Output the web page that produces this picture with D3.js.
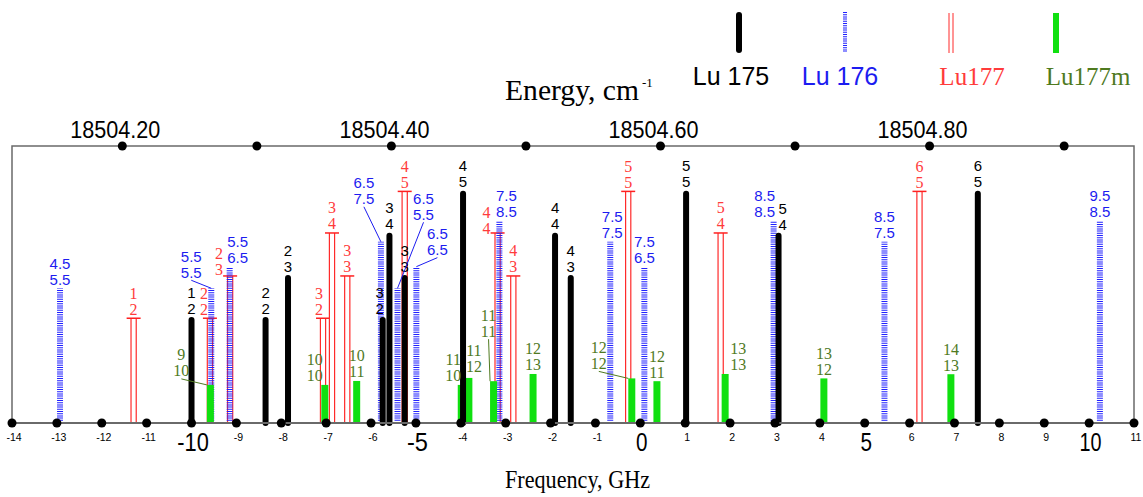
<!DOCTYPE html>
<html>
<head>
<meta charset="utf-8">
<script src="https://cdn.jsdelivr.net/npm/d3@7"></script>
<style>
  body { margin: 0; background: #fff; }
  svg { display: block; }
</style>
</head>
<body>
<svg id="chart" width="1143" height="497"></svg>
<script>
// hyperfine components: frequency offset (GHz), relative strength, F' / F labels
const lu175Freq = [-10.0, -8.35, -7.85, -5.74, -5.59, -5.25, -3.95, -1.90, -1.55, 1.02, 3.08, 7.52];
const lu175Int  = [45.6, 45.6, 63.7, 45.6, 81.9, 63.7, 100, 81.9, 63.7, 100, 81.9, 100];
const lu175Up   = ["1", "2", "2", "3", "3", "3", "4", "4", "4", "5", "5", "6"];
const lu175Low  = ["2", "2", "3", "2", "4", "3", "5", "4", "3", "5", "4", "5"];

const lu176Freq = [-12.93, -9.56, -9.15, -5.78, -5.41, -4.99, -3.14, -0.67, 0.09, 2.97, 5.44, 10.24];
const lu176Int  = [58.0, 58.0, 67.3, 78.0, 58.0, 67.3, 87.1, 78.0, 67.3, 87.1, 78.0, 87.1];
const lu176Up   = ["4.5", "5.5", "5.5", "6.5", "6.5", "6.5", "7.5", "7.5", "7.5", "8.5", "8.5", "9.5"];
const lu176Low  = ["5.5", "5.5", "6.5", "7.5", "5.5", "6.5", "8.5", "7.5", "6.5", "8.5", "7.5", "8.5"];

const lu177Freq = [-11.29, -9.59, -9.14, -7.07, -6.87, -6.53, -5.25, -3.18, -2.83, -0.27, 1.79, 6.22];
const lu177Int  = [45.1, 45.1, 63.3, 45.1, 81.8, 63.3, 99.7, 81.8, 63.3, 99.7, 81.8, 99.7];
const lu177Up   = ["1", "2", "2", "3", "3", "3", "4", "4", "4", "5", "5", "6"];
const lu177Low  = ["2", "2", "3", "2", "4", "3", "5", "4", "3", "5", "4", "5"];

const lu177mFreq = [-9.58, -7.03, -6.32, -3.99, -3.82, -3.27, -2.39, -0.19, 0.37, 1.89, 4.09, 6.92];
const lu177mInt  = [16.4, 16.4, 18.1, 16.4, 19.4, 18.0, 21.1, 19.2, 18.0, 21.1, 19.2, 21.0];
const lu177mUp   = ["9", "10", "10", "11", "11", "11", "12", "12", "12", "13", "13", "14"];
const lu177mLow  = ["10", "10", "11", "10", "12", "11", "13", "12", "11", "13", "12", "13"];

const freqTicks = d3.range(-14, 12);
const bigTicks = [-10, -5, 0, 5, 10];
const energyTicks = [18504.20, 18504.30, 18504.40, 18504.50, 18504.60, 18504.70, 18504.80, 18504.90];
const energyLabels = [18504.20, 18504.40, 18504.60, 18504.80];

const E0 = 18504.585;          // energy at 0 GHz, cm-1
const GHZ_PER_CM = 29.9792458;

// label shifts where the labels would collide: [dx, dy, leader line]
const nudge = {
  lu175: { 3: [-3, 0], 10: [4, 1] },
  lu176: { 1: [-20, -7, true], 2: [8, 0], 3: [-17, -34, true], 4: [26, -65, true],
           5: [21, -8, true], 6: [7, 0], 7: [2, 0], 9: [-9, 0] },
  lu177: { 1: [-6, 0], 2: [-11, 3], 3: [-4, 0], 7: [-11, 5] },
  lu177m: { 0: [-29, -5, true], 1: [-10, 0], 3: [-8, 0], 4: [5, -2],
            5: [-5, -41, true], 7: [-33, -6, true], 9: [13, 0] }
};

const svg = d3.select("#chart");
const left = 12, right = 1134, base = 423, topLine = 146;

const x = d3.scaleLinear().domain([-14, 11]).range([left, right]);
const xE = d3.scaleLinear()
  .domain([E0 - 14 / GHZ_PER_CM, E0 + 11 / GHZ_PER_CM])
  .range([left, right]);
const y = d3.scaleLinear().domain([0, 100]).range([base, 190.7]);

const sans = "'Liberation Sans', Arial, sans-serif";
const serif = "'Liberation Serif', 'Times New Roman', serif";

// frame
svg.append("path")
  .attr("d", `M${left},${base}V${topLine}H${right}V${base}`)
  .attr("fill", "none").attr("stroke", "#6a6a6a").attr("stroke-width", 1.5);

// ---- marks ----
const gRed = svg.append("g"), gBlue = svg.append("g"), gGreen = svg.append("g"), gBlack = svg.append("g");

lu177Freq.forEach(function (f, i) {
  let cx = x(f), ty = y(lu177Int[i]);
  [-2.6, 2.6].forEach(function (o) {
    gRed.append("line").attr("x1", cx + o).attr("x2", cx + o)
      .attr("y1", base).attr("y2", ty)
      .attr("stroke", "#ff2a2a").attr("stroke-width", 1.2);
  });
  gRed.append("line").attr("x1", cx - 7).attr("x2", cx + 7)
    .attr("y1", ty).attr("y2", ty)
    .attr("stroke", "#ff2020").attr("stroke-width", 1.5);
});

lu176Freq.forEach(function (f, i) {
  gBlue.append("line").attr("x1", x(f)).attr("x2", x(f))
    .attr("y1", base).attr("y2", y(lu176Int[i]))
    .attr("stroke", "#1f1fff").attr("stroke-width", 6)
    .attr("stroke-dasharray", "1,1.2");
});

lu177mFreq.forEach(function (f, i) {
  gGreen.append("rect")
    .attr("x", x(f) - 3.5).attr("width", 7)
    .attr("y", y(lu177mInt[i])).attr("height", base - y(lu177mInt[i]))
    .attr("fill", "#10e010");
});

lu175Freq.forEach(function (f, i) {
  gBlack.append("line").attr("x1", x(f)).attr("x2", x(f))
    .attr("y1", base).attr("y2", y(lu175Int[i]) + 3)
    .attr("stroke", "#000").attr("stroke-width", 6)
    .attr("stroke-linecap", "round");
});

// ---- labels ----
function labels(freqs, ints, up, low, color, font, size, shifts, halfW) {
  let g = svg.append("g").attr("fill", color)
    .attr("font-family", font).attr("font-size", size)
    .attr("text-anchor", "middle");
  freqs.forEach(function (f, i) {
    let s = shifts[i] || [0, 0, false];
    let ty = y(ints[i]);
    let lx = x(f) + s[0], ly = ty - 9 + s[1];
    g.append("text").attr("x", lx).attr("y", ly - 16)
      .attr("dominant-baseline", "central").text(up[i]);
    g.append("text").attr("x", lx).attr("y", ly)
      .attr("dominant-baseline", "central").text(low[i]);
    if (s[2]) {
      let ex = x(f) + (s[0] < 0 ? -halfW : 0);
      g.append("line").attr("x1", lx).attr("y1", ly + 8)
        .attr("x2", ex).attr("y2", ty)
        .attr("stroke", color).attr("stroke-width", 1);
    }
  });
}

labels(lu175Freq, lu175Int, lu175Up, lu175Low, "#000", sans, 15, nudge.lu175, 0);
labels(lu176Freq, lu176Int, lu176Up, lu176Low, "#1c1cf0", sans, 15, nudge.lu176, 0);
labels(lu177Freq, lu177Int, lu177Up, lu177Low, "#ff3b3b", serif, 16, nudge.lu177, 0);
labels(lu177mFreq, lu177mInt, lu177mUp, lu177mLow, "#4f7a1f", serif, 16, nudge.lu177m, 3.5);

// ---- bottom axis ----
svg.append("line").attr("x1", left).attr("x2", right)
  .attr("y1", base).attr("y2", base)
  .attr("stroke", "#6a6a6a").attr("stroke-width", 2);

svg.append("g").selectAll("circle").data(freqTicks).join("circle")
  .attr("cx", d => x(d)).attr("cy", base).attr("r", 4.5).attr("fill", "#000");

// big labels are drawn a little narrower than the font's natural width
function bigWidth(d) { return String(d).length * 10.5 + (d < 0 ? 0 : 1); }

svg.append("g").attr("font-family", sans).attr("text-anchor", "middle")
  .selectAll("text").data(freqTicks).join("text")
  .attr("x", d => x(d) + (bigTicks.includes(d) ? 1.5 : 2))
  .attr("y", d => bigTicks.includes(d) ? 451 : 441)
  .attr("font-size", d => bigTicks.includes(d) ? 25 : 10.5)
  .attr("textLength", d => bigTicks.includes(d) ? bigWidth(d) : null)
  .attr("lengthAdjust", "spacingAndGlyphs")
  .text(d => d);

svg.append("text").attr("x", 505).attr("y", 488)
  .attr("font-family", serif).attr("font-size", 26)
  .attr("textLength", 145).attr("lengthAdjust", "spacingAndGlyphs")
  .text("Frequency, GHz");

// ---- top energy axis ----
svg.append("g").selectAll("circle").data(energyTicks).join("circle")
  .attr("cx", d => xE(d)).attr("cy", topLine).attr("r", 4.5).attr("fill", "#000");

svg.append("g").attr("font-family", sans).attr("font-size", 23)
  .selectAll("text").data(energyLabels).join("text")
  .attr("x", d => xE(d) - 52).attr("y", 138)
  .attr("textLength", 90).attr("lengthAdjust", "spacingAndGlyphs")
  .text(d => d.toFixed(2));

let eTitle = svg.append("text").attr("x", 505).attr("y", 100)
  .attr("font-family", serif).attr("font-size", 29);
eTitle.append("tspan").attr("textLength", 134).attr("lengthAdjust", "spacingAndGlyphs")
  .text("Energy, cm");
eTitle.append("tspan").attr("dx", 3).attr("dy", -13).attr("font-size", 13).text("-1");

// ---- legend ----
const legendNames = ["Lu 175", "Lu 176", "Lu177", "Lu177m"];
const legendX = [739, 845, 951, 1056];
const legendTextX = [731, 840, 972, 1088];
const legendColor = ["#000", "#1c1cf0", "#ff3b3b", "#4f7a1f"];
const legendFont = [sans, sans, serif, serif];

let lg = svg.append("g");
lg.append("line").attr("x1", legendX[0]).attr("x2", legendX[0]).attr("y1", 15).attr("y2", 50)
  .attr("stroke", "#000").attr("stroke-width", 6).attr("stroke-linecap", "round");
lg.append("line").attr("x1", legendX[1]).attr("x2", legendX[1]).attr("y1", 12).attr("y2", 52)
  .attr("stroke", "#1f1fff").attr("stroke-width", 4).attr("stroke-dasharray", "1,1.2");
[-2, 2].forEach(function (o) {
  lg.append("line").attr("x1", legendX[2] + o).attr("x2", legendX[2] + o).attr("y1", 13).attr("y2", 53)
    .attr("stroke", "#ff2a2a").attr("stroke-width", 1);
});
lg.append("rect").attr("x", legendX[3] - 3).attr("width", 6).attr("y", 13).attr("height", 40)
  .attr("fill", "#10e010");

legendNames.forEach(function (n, i) {
  lg.append("text").attr("x", legendTextX[i]).attr("y", 85)
    .attr("text-anchor", "middle").attr("font-family", legendFont[i])
    .attr("font-size", 25).attr("fill", legendColor[i]).text(n);
});
</script>
</body>
</html>
